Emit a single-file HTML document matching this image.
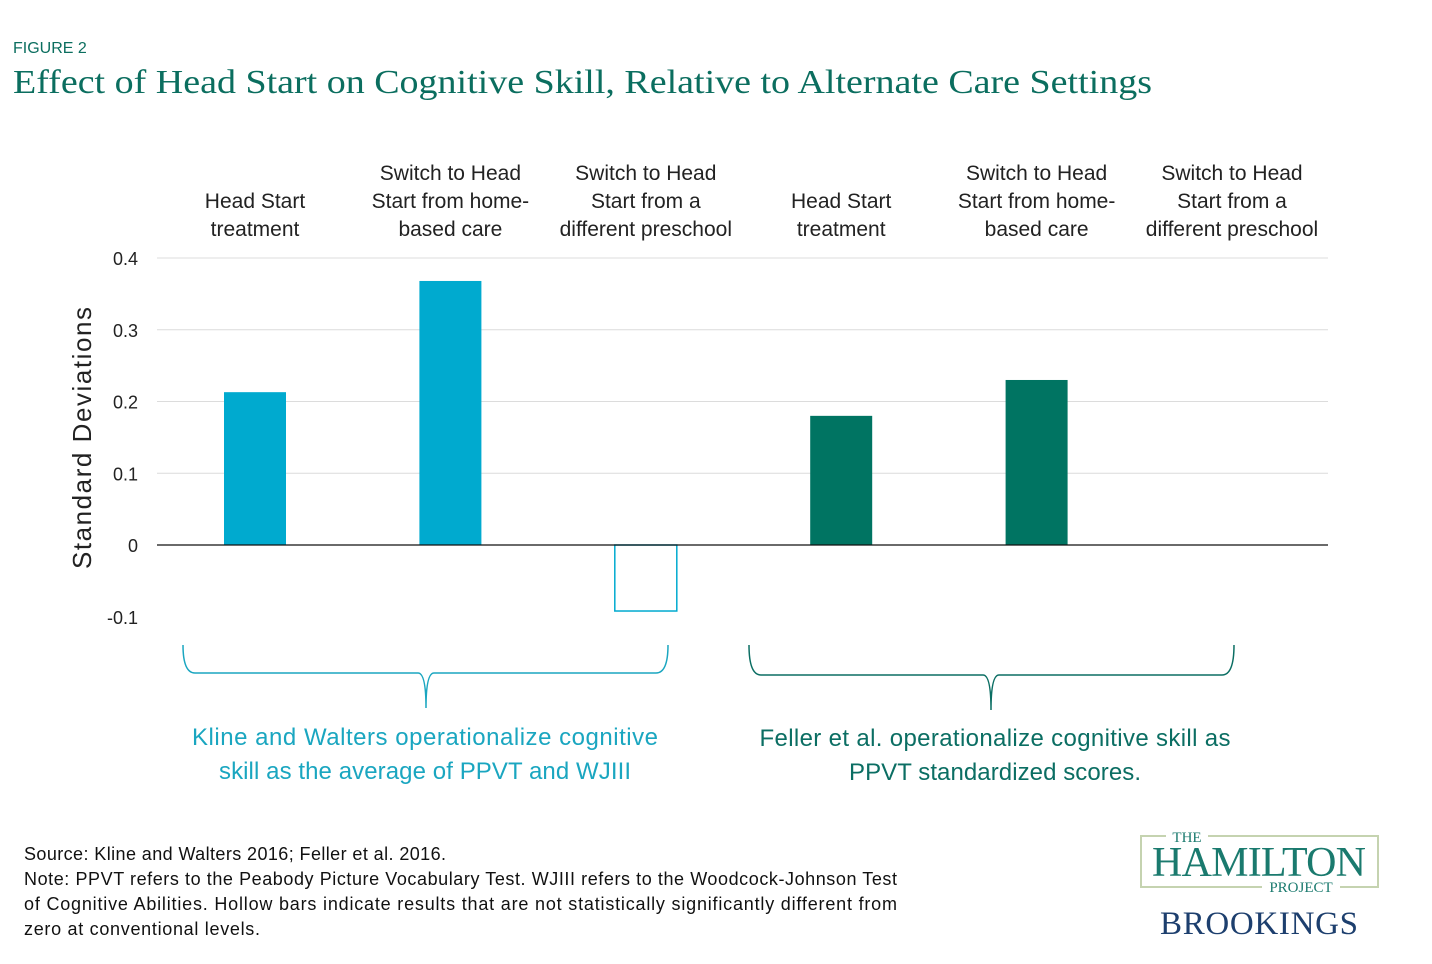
<!DOCTYPE html>
<html><head><meta charset="utf-8"><style>
body{margin:0;background:#fff;}
svg{display:block;font-family:"Liberation Sans",sans-serif;}
</style></head><body>
<svg id="chart" width="1432" height="964" viewBox="0 0 1432 964" xmlns="http://www.w3.org/2000/svg">
<text x="13" y="53" font-size="16" fill="#0b6e5f">FIGURE 2</text>
<text x="13" y="93" font-size="34" font-family="Liberation Serif, serif" fill="#0b6e5f" textLength="1139" lengthAdjust="spacingAndGlyphs">Effect of Head Start on Cognitive Skill, Relative to Alternate Care Settings</text>
<g id="grid"></g>
<g id="yticks" font-size="18" fill="#222" text-anchor="end"></g>
<text transform="translate(91,438) rotate(-90)" text-anchor="middle" font-size="26" fill="#222" textLength="262">Standard Deviations</text>
<g id="cats" font-size="21" fill="#222" text-anchor="middle"></g>
<g id="bars"></g>
<g fill="none" stroke="#1aa6c0" stroke-width="1.5">
<path d="M183,645 Q183,673 195,673 L418,673 Q426,673 426,708 Q426,673 434,673 L656,673 Q668,673 668,645"/>
</g>
<g fill="none" stroke="#0b6e63" stroke-width="1.5">
<path d="M749,645 Q749,675 761,675 L983,675 Q991,675 991,710 Q991,675 999,675 L1222,675 Q1234,675 1234,645"/>
</g>
<text font-size="24" fill="#1aa6c0" text-anchor="middle"><tspan x="425" y="745" textLength="466">Kline and Walters operationalize cognitive</tspan><tspan x="425" y="779" textLength="412">skill as the average of PPVT and WJIII</tspan></text>
<text font-size="24" fill="#0b6e63" text-anchor="middle"><tspan x="995" y="746" textLength="471">Feller et al. operationalize cognitive skill as</tspan><tspan x="995" y="780" textLength="292">PPVT standardized scores.</tspan></text>
<text font-size="18" fill="#111"><tspan x="24" y="860" textLength="422">Source: Kline and Walters 2016; Feller et al. 2016.</tspan><tspan x="24" y="885" textLength="873">Note: PPVT refers to the Peabody Picture Vocabulary Test. WJIII refers to the Woodcock-Johnson Test</tspan><tspan x="24" y="910" textLength="873">of Cognitive Abilities. Hollow bars indicate results that are not statistically significantly different from</tspan><tspan x="24" y="935" textLength="236">zero at conventional levels.</tspan></text>
<g font-family="Liberation Serif, serif">
<rect x="1141" y="836" width="237" height="51" fill="none" stroke="#c5d3b0" stroke-width="2"/>
<rect x="1166" y="829" width="42" height="14" fill="#fff"/>
<rect x="1262" y="880" width="78" height="14" fill="#fff"/>
<text x="1187" y="842" font-size="15" fill="#1a7a6e" text-anchor="middle">THE</text>
<text x="1259" y="876" font-size="42" fill="#1a7a6e" text-anchor="middle" textLength="214">HAMILTON</text>
<text x="1301" y="892" font-size="15" fill="#1a7a6e" text-anchor="middle">PROJECT</text>
<text x="1259" y="934" font-size="33" fill="#1d3f6e" text-anchor="middle" textLength="198">BROOKINGS</text>
</g>
</svg>
<script>
const categories=["Head Start|treatment","Switch to Head|Start from home-|based care","Switch to Head|Start from a|different preschool","Head Start|treatment","Switch to Head|Start from home-|based care","Switch to Head|Start from a|different preschool"];
const values=[0.213,0.368,-0.092,0.180,0.230,0];
const hollow=[false,false,true,false,false,false];
const groups=["kline","kline","kline","feller","feller","feller"];
const ticks=[0.4,0.3,0.2,0.1,0,-0.1];
const tickLabels=["0.4","0.3","0.2","0.1","0","-0.1"];
const NS="http://www.w3.org/2000/svg";
const y=v=>545-v*717.5;
const x=i=>255+i*195.4;
function mk(t,a,p){const e=document.createElementNS(NS,t);for(const k in a)e.setAttribute(k,a[k]);p.appendChild(e);return e;}
const grid=document.getElementById('grid'),yt=document.getElementById('yticks');
ticks.forEach((t,i)=>{
 if(t!==0&&t>-0.1){const l=mk('line',{x1:157,x2:1328,y1:y(t),y2:y(t),stroke:'#dcdcdc','stroke-width':1},grid);
 
 }
 const tx=mk('text',{x:138,y:y(t)+7},yt);tx.textContent=tickLabels[i];
 
 
});
const bars=document.getElementById('bars');
values.forEach((v,i)=>{
 const col=groups[i]==='kline'?'#00aacf':'#007462';
 const top=Math.min(y(v),y(0)),h=Math.abs(y(v)-y(0));
 const r=mk('rect',{x:x(i)-31,y:top,width:62,height:h,fill:hollow[i]?'#fff':col,stroke:hollow[i]?col:'none','stroke-width':1.5},bars);
 
 
});
const z=mk('line',{x1:157,x2:1328,y1:y(0),y2:y(0),stroke:'#111','stroke-width':1.2},bars);


const cats=document.getElementById('cats');
categories.forEach((c,i)=>{
 const lines=c.split('|');
 lines.forEach((s,j)=>{const t=mk('text',{x:x(i),y:236-(lines.length-1-j)*28},cats);t.textContent=s;
 
 });
});
</script>
</body></html>
